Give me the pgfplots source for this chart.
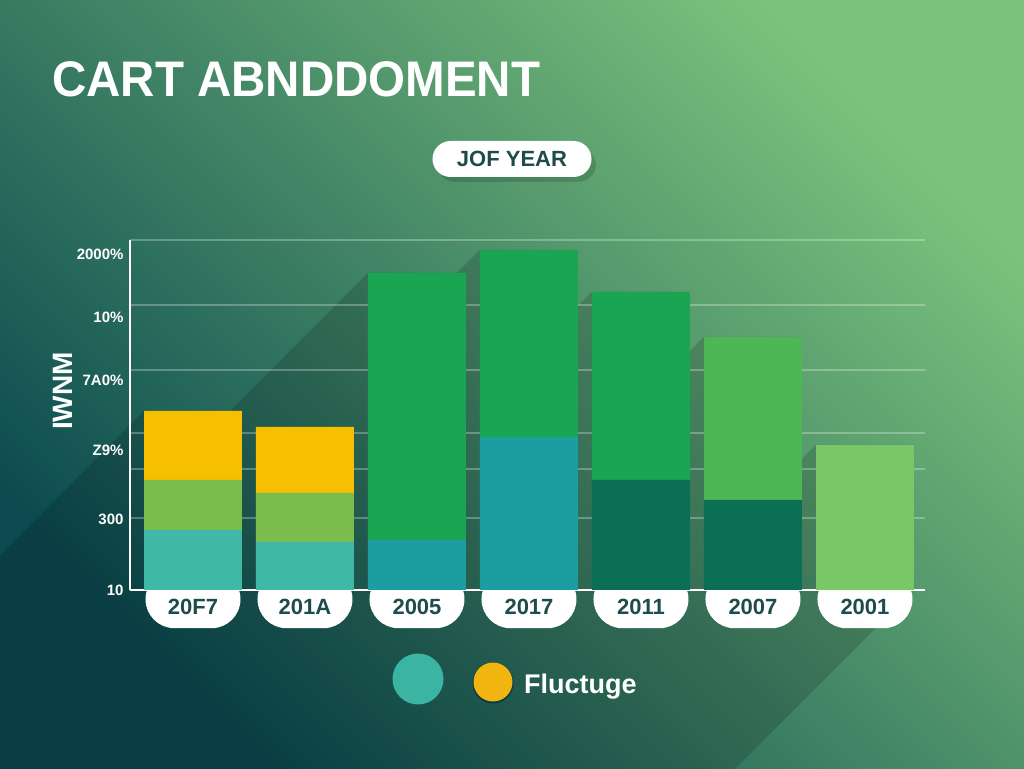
\documentclass[border=0pt]{standalone}
\usepackage{pgfplots}
\pgfplotsset{compat=1.18}
\usepackage{pgfplotstable}
\usepackage{fontspec}
\setmainfont{Liberation Sans}
\newfontfamily\titlefont[FakeStretch=0.95]{Liberation Sans}

\definecolor{bgDark}{HTML}{0A4A50}
\definecolor{bgMid}{HTML}{2E8878}
\definecolor{bgLight}{HTML}{7CC27C}
\definecolor{cTeal}{HTML}{40B8A6}
\definecolor{cBTeal}{HTML}{1C9EA0}
\definecolor{cDark}{HTML}{0B6F55}
\definecolor{cLight}{HTML}{7AC767}
\definecolor{cOlive}{HTML}{7BBD4C}
\definecolor{cGreen}{HTML}{1AA552}
\definecolor{cMid}{HTML}{4DB655}
\definecolor{cYellow}{HTML}{F6C000}
\definecolor{labc}{HTML}{1E4B4B}
\definecolor{legTeal}{HTML}{3CB4A3}
\definecolor{legYellow}{HTML}{F2B50F}

% stacked segments, one column per colour group
\pgfplotstableread{
x A   B   C   D   E   F   G   H
0 60  0   0   0   50  0   0   69
1 48  0   0   0   49  0   0   66
2 0   50  0   0   0   267 0   0
3 0   153 0   0   0   187 0   0
4 0   0   110 0   0   188 0   0
5 0   0   90  0   0   0   163 0
6 0   0   0   145 0   0   0   0
}\bardata

\pgfplotsset{chartbox/.style={
  at={(130pt,178pt)}, anchor=south west,
  scale only axis, width=795pt, height=350pt,
  xmin=-0.5625, xmax=6.536, ymin=0, ymax=350}}

\begin{document}
\begin{tikzpicture}[x=1pt,y=1pt]
\path[use as bounding box] (0,0) rectangle (1024,768);
\shade[bottom color=bgDark, middle color=bgMid, top color=bgLight, shading angle=-45] (0,0) rectangle (1024,768);

% long shadows behind the bars
\begin{axis}[chartbox, hide axis, clip=false]
\addplot[fill=black, fill opacity=0.15, draw=none, unbounded coords=jump] coordinates {
(-0.4375,179) (0.4375,179) (0.4375,0) (-1.7946,-250) (-2.6696,-250) (-2.6696,-71) (nan,nan)
(0.5625,163) (1.4375,163) (1.4375,0) (-0.7946,-250) (-1.6696,-250) (-1.6696,-87) (nan,nan)
(1.5625,317) (2.4375,317) (2.4375,0) (0.2054,-250) (-0.6696,-250) (-0.6696,67) (nan,nan)
(2.5625,340) (3.4375,340) (3.4375,0) (1.2054,-250) (0.3304,-250) (0.3304,90) (nan,nan)
(3.5625,298) (4.4375,298) (4.4375,0) (2.2054,-250) (1.3304,-250) (1.3304,48) (nan,nan)
(4.5625,253) (5.4375,253) (5.4375,0) (3.2054,-250) (2.3304,-250) (2.3304,3) (nan,nan)
(5.5625,145) (6.4375,145) (6.4375,0) (4.2054,-250) (3.3304,-250) (3.3304,-105)
};
\end{axis}

% white pills holding the year labels
\begin{axis}[chartbox,
  axis line style={draw=none},
  major tick length=0pt,
  ytick=\empty,
  xtick={0,1,2,3,4,5,6},
  xticklabels={20F7,201A,2005,2017,2011,2007,2001},
  xticklabel style={font=\fontsize{22}{22}\selectfont\bfseries, text=labc,
    fill=white, rounded corners=29pt, minimum width=95pt,
    inner xsep=0pt, inner ysep=0pt, text height=44pt, text depth=14pt,
    anchor=north, yshift=20pt},
]
\end{axis}

\begin{axis}[chartbox,
  ybar stacked, bar width=0.875,
  axis lines*=left,
  axis line style={white, line width=1.3pt},
  xtick=\empty,
  major tick length=0pt,
  ytick={0,71,140,210,273,336},
  yticklabels={10,300,Z9\%,7A0\%,10\%,2000\%},
  yticklabel style={font=\fontsize{15}{15}\selectfont\bfseries, text=white, xshift=-3pt},
  extra y ticks={72,121,157,220,285,350},
  extra y tick labels={},
  extra y tick style={grid=major, major grid style={white, opacity=0.28, line width=1.4pt}},
]
\addplot[fill=cTeal, draw=none] table[x=x, y=A] {\bardata};
\addplot[fill=cBTeal, draw=none] table[x=x, y=B] {\bardata};
\addplot[fill=cDark, draw=none] table[x=x, y=C] {\bardata};
\addplot[fill=cLight, draw=none] table[x=x, y=D] {\bardata};
\addplot[fill=cOlive, draw=none] table[x=x, y=E] {\bardata};
\addplot[fill=cGreen, draw=none] table[x=x, y=F] {\bardata};
\addplot[fill=cMid, draw=none] table[x=x, y=G] {\bardata};
\addplot[fill=cYellow, draw=none] table[x=x, y=H] {\bardata};
\end{axis}

% title
\node[anchor=base west, inner sep=0pt, text=white, font=\titlefont\fontsize{50}{50}\selectfont\bfseries] at (52,671) {CART ABNDDOMENT};
% subtitle pill
\fill[black, opacity=0.15, rounded corners=18pt] (437,586) rectangle (596,620);
\node[fill=white, rounded corners=18pt, minimum width=159pt, minimum height=36pt, inner sep=0pt,
  text=labc, font=\fontsize{22}{22}\selectfont\bfseries] at (512,609) {JOF YEAR};
% y label
\node[rotate=90, text=white, font=\fontsize{28}{28}\selectfont\bfseries] at (63,377) {IWNM};
% legend
\fill[legTeal] (418,89) circle (25.5);
\fill[bgDark!80!black] (493,85) circle (20.5);
\fill[legYellow] (493,86) circle (19.5);
\node[anchor=base west, inner sep=0pt, text=white, font=\fontsize{27}{27}\selectfont\bfseries] at (524,75) {Fluctuge};
\end{tikzpicture}
\end{document}
